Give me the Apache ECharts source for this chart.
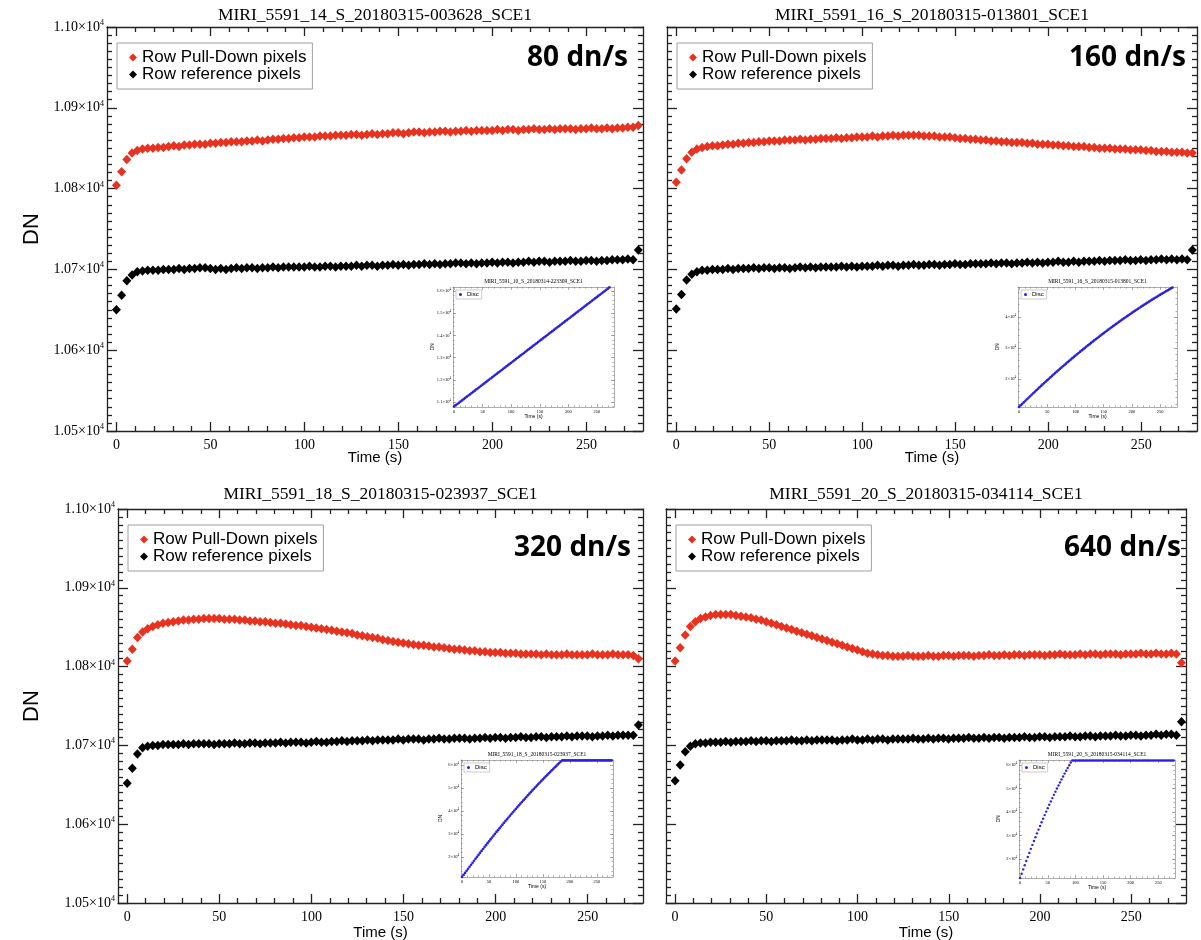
<!DOCTYPE html>
<html><head><meta charset="utf-8">
<script src="https://cdn.jsdelivr.net/npm/echarts@6/dist/echarts.min.js"></script>
<style>html,body{margin:0;padding:0;background:#fff}#c{width:1201px;height:940px}</style>
</head><body><div id="c"></div>
<script>
// ---------------- DATA ----------------
const timeS = [0,2.78,5.55,8.33,11.1,13.88,16.65,19.43,22.2,24.98,
27.75,30.53,33.3,36.08,38.85,41.63,44.4,47.18,49.95,52.73,
55.5,58.28,61.05,63.83,66.6,69.38,72.15,74.93,77.7,80.48,
83.25,86.03,88.8,91.58,94.35,97.13,99.9,102.68,105.45,108.23,
111,113.78,116.55,119.33,122.1,124.88,127.65,130.43,133.2,135.98,
138.75,141.53,144.3,147.08,149.85,152.63,155.4,158.18,160.95,163.73,
166.5,169.28,172.05,174.83,177.6,180.38,183.15,185.93,188.7,191.48,
194.25,197.03,199.8,202.58,205.35,208.13,210.9,213.68,216.45,219.23,
222,224.78,227.55,230.33,233.1,235.88,238.65,241.43,244.2,246.98,
249.75,252.53,255.3,258.08,260.85,263.63,266.4,269.18,271.95,274.73,
277.5];

const p1PullDown = [10804,10821,10836,10844,10847,10849,10850,10850,10851,10851,
10852,10853,10852,10854,10854,10855,10855,10855,10856,10856,
10857,10857,10858,10858,10858,10859,10859,10860,10859,10860,
10861,10861,10862,10862,10863,10863,10864,10864,10864,10865,
10865,10865,10866,10866,10866,10867,10867,10866,10867,10868,
10867,10868,10868,10869,10869,10868,10869,10870,10870,10869,
10870,10870,10871,10871,10870,10871,10871,10872,10871,10872,
10872,10872,10872,10873,10872,10873,10873,10872,10873,10873,
10874,10873,10873,10874,10873,10874,10874,10874,10873,10874,
10874,10875,10874,10874,10875,10874,10875,10875,10876,10876,
10878];
const p1Reference = [10650,10668,10686,10693,10697,10698,10699,10699,10699,10700,
10700,10700,10701,10700,10701,10701,10702,10702,10701,10700,
10701,10700,10701,10702,10701,10702,10702,10701,10702,10702,
10703,10702,10703,10703,10703,10703,10703,10704,10703,10703,
10704,10704,10703,10704,10704,10704,10705,10704,10705,10705,
10704,10705,10705,10706,10705,10706,10705,10706,10706,10707,
10706,10707,10706,10707,10707,10708,10708,10707,10708,10707,
10708,10708,10709,10708,10709,10709,10708,10709,10709,10710,
10709,10710,10710,10709,10710,10710,10710,10711,10710,10710,
10711,10711,10710,10711,10711,10712,10712,10712,10713,10712,
10724];

const p2PullDown = [10808,10823,10837,10845,10849,10851,10852,10853,10853,10854,
10855,10855,10856,10856,10857,10857,10858,10858,10859,10859,
10859,10860,10860,10860,10861,10860,10861,10861,10862,10862,
10862,10863,10862,10863,10863,10864,10864,10864,10865,10864,
10865,10865,10866,10865,10866,10866,10866,10866,10865,10865,
10865,10864,10864,10864,10863,10862,10862,10861,10861,10860,
10860,10859,10859,10858,10858,10857,10857,10857,10856,10856,
10855,10855,10855,10854,10854,10853,10853,10852,10852,10852,
10851,10851,10850,10850,10850,10849,10849,10849,10848,10848,
10848,10847,10847,10846,10846,10846,10845,10845,10845,10844,
10844];
const p2Reference = [10651,10669,10687,10694,10697,10699,10699,10700,10700,10700,
10701,10700,10701,10701,10701,10702,10701,10702,10702,10701,
10702,10702,10701,10702,10703,10702,10703,10702,10703,10703,
10703,10703,10704,10703,10704,10703,10704,10704,10704,10705,
10704,10705,10705,10704,10705,10705,10706,10705,10705,10706,
10706,10705,10706,10706,10707,10706,10706,10707,10707,10707,
10707,10708,10707,10708,10708,10707,10708,10708,10709,10708,
10709,10708,10709,10709,10710,10709,10709,10710,10709,10710,
10710,10710,10711,10710,10711,10711,10711,10712,10711,10711,
10712,10711,10712,10712,10713,10712,10713,10712,10713,10712,
10724];

const p3PullDown = [10807,10822,10837,10844,10848,10851,10853,10855,10856,10857,
10858,10859,10859,10860,10860,10861,10861,10861,10861,10860,
10860,10860,10859,10859,10858,10858,10857,10857,10856,10855,
10855,10854,10853,10852,10852,10851,10850,10849,10848,10847,
10846,10845,10844,10843,10842,10840,10839,10838,10837,10836,
10834,10833,10832,10831,10830,10829,10828,10827,10827,10826,
10825,10825,10824,10823,10822,10822,10821,10820,10820,10819,
10819,10818,10818,10818,10817,10817,10817,10816,10816,10816,
10816,10815,10816,10815,10815,10815,10816,10815,10815,10815,
10815,10816,10815,10815,10815,10816,10815,10815,10815,10814,
10810];
const p3Reference = [10652,10671,10689,10697,10699,10700,10700,10701,10701,10701,
10701,10702,10701,10702,10702,10702,10702,10701,10702,10702,
10702,10703,10702,10702,10703,10703,10702,10703,10703,10703,
10704,10703,10704,10704,10704,10703,10704,10705,10704,10704,
10705,10705,10706,10705,10706,10706,10706,10707,10706,10707,
10707,10707,10707,10708,10707,10708,10708,10708,10707,10708,
10708,10709,10708,10708,10709,10709,10709,10708,10709,10709,
10710,10709,10710,10710,10709,10710,10710,10711,10710,10710,
10711,10711,10710,10711,10711,10711,10712,10711,10712,10712,
10712,10711,10712,10712,10713,10712,10713,10713,10713,10713,
10726];

const p4PullDown = [10807,10824,10840,10851,10857,10861,10863,10865,10866,10866,
10866,10866,10865,10864,10863,10862,10860,10859,10857,10855,
10853,10851,10849,10847,10845,10843,10841,10839,10837,10835,
10833,10831,10829,10827,10825,10823,10821,10819,10817,10816,
10815,10814,10814,10813,10813,10813,10814,10813,10813,10813,
10814,10813,10813,10814,10814,10813,10814,10814,10814,10813,
10814,10814,10815,10814,10814,10815,10814,10815,10815,10814,
10815,10815,10815,10814,10815,10815,10816,10815,10815,10815,
10816,10815,10816,10816,10815,10816,10816,10816,10815,10816,
10816,10816,10817,10816,10816,10817,10816,10816,10817,10816,
10805];
const p4Reference = [10655,10675,10692,10699,10702,10703,10703,10704,10704,10704,
10705,10704,10705,10705,10705,10706,10705,10706,10706,10705,
10706,10706,10706,10707,10706,10706,10707,10706,10707,10707,
10707,10707,10706,10707,10707,10708,10707,10707,10708,10707,
10708,10708,10707,10708,10708,10708,10708,10709,10708,10708,
10709,10708,10709,10709,10708,10709,10709,10709,10710,10709,
10709,10710,10709,10710,10710,10709,10710,10710,10710,10711,
10710,10710,10711,10711,10710,10711,10711,10711,10712,10711,
10711,10712,10712,10711,10712,10712,10712,10713,10712,10712,
10713,10713,10712,10713,10713,10714,10713,10714,10714,10713,
10730];

const inset1Disc = [10800,10855,10909,10964,11019,11073,11128,11183,11238,11292,
11347,11402,11456,11511,11566,11620,11675,11730,11785,11839,
11894,11949,12003,12058,12113,12167,12222,12277,12332,12386,
12441,12496,12550,12605,12660,12714,12769,12824,12879,12933,
12988,13043,13097,13152,13207,13261,13316,13371,13426,13480,
13535,13590,13644,13699,13754,13808,13863,13918,13973,14027,
14082,14137,14191,14246,14301,14355,14410,14465,14520,14574,
14629,14684,14738,14793,14848,14902,14957,15012,15067,15121,
15176,15231,15285,15340,15395,15449,15504,15559,15614,15668,
15723,15778,15832,15887,15942,15996,16051,16106,16161,16215,
16270];
const inset2Disc = [11000,11500,11990,12490,12980,13470,13950,14440,14920,15400,
15880,16360,16830,17300,17770,18240,18700,19170,19630,20090,
20540,21000,21450,21900,22350,22790,23240,23680,24120,24550,
24990,25420,25850,26280,26710,27130,27550,27970,28390,28810,
29220,29630,30040,30450,30850,31250,31650,32050,32450,32840,
33230,33620,34010,34400,34780,35160,35540,35920,36290,36660,
37030,37400,37770,38130,38490,38850,39210,39560,39920,40270,
40620,40960,41310,41650,41990,42330,42660,42990,43330,43660,
43980,44310,44630,44950,45270,45580,45900,46210,46520,46830,
47130,47440,47740,48040,48330,48630,48920,49210,49500,49780,
50070];
const inset3Disc = [11300,12200,13090,13980,14870,15750,16630,17500,18370,19230,
20090,20950,21800,22650,23490,24330,25160,26000,26820,27640,
28460,29280,30080,30890,31690,32490,33280,34070,34850,35630,
36410,37180,37950,38710,39470,40220,40970,41720,42460,43200,
43930,44660,45390,46110,46820,47540,48250,48950,49650,50350,
51040,51720,52410,53090,53760,54430,55100,55760,56410,57070,
57720,58360,59000,59640,60270,60900,61520,62000,62000,62000,
62000,62000,62000,62000,62000,62000,62000,62000,62000,62000,
62000,62000,62000,62000,62000,62000,62000,62000,62000,62000,
62000,62000,62000,62000,62000,62000,62000,62000,62000,62000,
62000];
const inset4Disc = [11900,13740,15560,17350,19120,20880,22610,24320,26000,27670,
29310,30930,32530,34110,35670,37200,38710,40210,41670,43120,
44550,45960,47340,48700,50040,51360,52650,53930,55180,56410,
57620,58810,59970,61120,62000,62000,62000,62000,62000,62000,
62000,62000,62000,62000,62000,62000,62000,62000,62000,62000,
62000,62000,62000,62000,62000,62000,62000,62000,62000,62000,
62000,62000,62000,62000,62000,62000,62000,62000,62000,62000,
62000,62000,62000,62000,62000,62000,62000,62000,62000,62000,
62000,62000,62000,62000,62000,62000,62000,62000,62000,62000,
62000,62000,62000,62000,62000,62000,62000,62000,62000,62000,
62000];

const panelTitles = ['MIRI_5591_14_S_20180315-003628_SCE1','MIRI_5591_16_S_20180315-013801_SCE1',
                     'MIRI_5591_18_S_20180315-023937_SCE1','MIRI_5591_20_S_20180315-034114_SCE1'];
const rateLabels = ['80 dn/s','160 dn/s','320 dn/s','640 dn/s'];
const insetTitles = ['MIRI_5591_10_S_20180314-223309_SCE1','MIRI_5591_16_S_20180315-013801_SCE1',
                     'MIRI_5591_18_S_20180315-023937_SCE1','MIRI_5591_20_S_20180315-034114_SCE1'];
const seriesNames = ['Row Pull-Down pixels','Row reference pixels'];
const insetSeriesName = 'Disc';
const xAxisName = 'Time (s)';
const yAxisName = 'DN';

const mainXTicks = [0,50,100,150,200,250];
const mainYTicks = [10500,10600,10700,10800,10900,11000];
const mainYTickLabels = ['1.05','1.06','1.07','1.08','1.09','1.10'];
const inset1YTicks = [11000,12000,13000,14000,15000,16000];
const inset1YTickLabels = ['1.1','1.2','1.3','1.4','1.5','1.6'];
const inset2YTicks = [20000,30000,40000];
const inset2YTickLabels = ['2','3','4'];
const inset34YTicks = [20000,30000,40000,50000,60000];
const inset34YTickLabels = ['2','3','4','5','6'];

// ---------------- LAYOUT / STYLE ----------------
const SERIF = "'Liberation Serif','Times New Roman',serif";
const SANS = "'Liberation Sans',Arial,Helvetica,sans-serif";
const RED = '#e8321f', BLACK = '#000000', BLUE = '#2a20e0';

function range(a, b, step) { const r = []; for (let v = a; v <= b + 1e-9; v += step) r.push(Math.round(v * 1000) / 1000); return r; }

const panels = [
  {grid:{left:107, top:27, width:536, height:404}, inset:{left:453, top:287, width:161, height:120},
   yLabels:true, red:p1PullDown, black:p1Reference, disc:inset1Disc,
   iy:{min:10775, max:16180, ticks:inset1YTicks, labels:inset1YTickLabels, minorStep:200},
   titleY:15, nameGap:19, labelMargin:7, rateRight:628, rateY:58},
  {grid:{left:667, top:27, width:530, height:404}, inset:{left:1018, top:287, width:159, height:120},
   yLabels:false, red:p2PullDown, black:p2Reference, disc:inset2Disc,
   iy:{min:10970, max:49680, ticks:inset2YTicks, labels:inset2YTickLabels, minorStep:2000},
   titleY:15, nameGap:19, labelMargin:7, rateRight:1186, rateY:58},
  {grid:{left:118, top:509, width:525, height:394}, inset:{left:461, top:760, width:152, height:117},
   yLabels:true, red:p3PullDown, black:p3Reference, disc:inset3Disc,
   iy:{min:11300, max:62200, ticks:inset34YTicks, labels:inset34YTickLabels, minorStep:2000},
   titleY:494, nameGap:22, labelMargin:7, rateRight:631, rateY:548},
  {grid:{left:666, top:509, width:520, height:394}, inset:{left:1019, top:760, width:156, height:118},
   yLabels:false, red:p4PullDown, black:p4Reference, disc:inset4Disc,
   iy:{min:11900, max:62200, ticks:inset34YTicks, labels:inset34YTickLabels, minorStep:2000},
   titleY:494, nameGap:22, labelMargin:7, rateRight:1181, rateY:548}
];

const grids = [], xAxes = [], yAxes = [], series = [], legends = [], graphics = [];

function addGrid(g, bg) {
  grids.push(Object.assign({show: !!bg, backgroundColor: bg || 'transparent', borderWidth: 0,
    containLabel: false, outerBoundsMode: 'none'}, g));
  return grids.length - 1;
}

function addXAxes(gi, o) {
  const first = xAxes.length;
  ['bottom', 'top'].forEach(pos => {
    xAxes.push({type:'value', gridIndex:gi, position:pos, min:o.min, max:o.max, silent:true,
      splitLine:{show:false},
      axisLine:{show:true, onZero:false, lineStyle:{color:o.color, width:o.lineW}},
      axisTick:{show:true, inside:true, length:o.majorLen, customValues:o.major, lineStyle:{color:o.color, width:o.lineW}},
      axisLabel: pos === 'bottom' ? {show:true, customValues:o.major, margin:o.labelMargin, fontSize:o.labelSize,
        fontFamily:SERIF, color:'#000', hideOverlap:false, showMinLabel:true, showMaxLabel:true} : {show:false},
      name: pos === 'bottom' ? xAxisName : '', nameLocation:'middle', nameGap:o.nameGap, nameMoveOverlap:false,
      nameTextStyle:{fontFamily:SANS, fontSize:o.nameSize, color:'#000'}
    });
    xAxes.push({type:'value', gridIndex:gi, position:pos, min:o.min, max:o.max, silent:true,
      splitLine:{show:false}, axisLine:{show:false, onZero:false},
      axisTick:{show:true, inside:true, length:o.minorLen, customValues:o.minor, lineStyle:{color:o.color, width:o.lineW}},
      axisLabel:{show:false}
    });
  });
  return first;
}

function addYAxes(gi, o) {
  const first = yAxes.length;
  ['left', 'right'].forEach(pos => {
    const showLab = pos === 'left' && o.showLabels;
    yAxes.push({type:'value', gridIndex:gi, position:pos, min:o.min, max:o.max, silent:true,
      splitLine:{show:false},
      axisLine:{show:true, onZero:false, lineStyle:{color:o.color, width:o.lineW}},
      axisTick:{show:true, inside:true, length:o.majorLen, customValues:o.major, lineStyle:{color:o.color, width:o.lineW}},
      axisLabel: showLab ? {show:true, customValues:o.major, margin:o.labelMargin, hideOverlap:false,
        showMinLabel:true, showMaxLabel:true,
        formatter: v => { const i = o.major.indexOf(v); return '{m|' + o.labels[i] + '×10}{s|4}'; },
        rich:{m:{fontFamily:SERIF, fontSize:o.labelSize, lineHeight:o.labelSize + 2, color:'#000'},
              s:{fontFamily:SERIF, fontSize:o.supSize, lineHeight:o.supSize, verticalAlign:'top', color:'#000'}}} : {show:false}
    });
    yAxes.push({type:'value', gridIndex:gi, position:pos, min:o.min, max:o.max, silent:true,
      splitLine:{show:false}, axisLine:{show:false, onZero:false},
      axisTick:{show:true, inside:true, length:o.minorLen, customValues:o.minor, lineStyle:{color:o.color, width:o.lineW}},
      axisLabel:{show:false}
    });
  });
  return first;
}

panels.forEach((p, k) => {
  const g = p.grid;
  const gi = addGrid(g, null);
  const xi = addXAxes(gi, {min:-5, max:280, major:mainXTicks, minor:range(10, 270, 10).filter(v => v % 50 !== 0),
    majorLen:9, minorLen:5, color:'#222', lineW:1.3, labelMargin:p.labelMargin, labelSize:14, nameGap:p.nameGap, nameSize:15});
  const yi = addYAxes(gi, {min:10500, max:11000, major:mainYTicks, labels:mainYTickLabels,
    minor:range(10510, 10990, 10).filter(v => v % 100 !== 0), showLabels:p.yLabels,
    majorLen:10, minorLen:5, color:'#222', lineW:1.3, labelMargin:3, labelSize:14, supSize:8});
  series.push({type:'scatter', name:seriesNames[0], xAxisIndex:xi, yAxisIndex:yi, symbol:'diamond', symbolSize:[9, 9.5],
    itemStyle:{color:RED, opacity:1}, data:timeS.map((t, i) => [t, p.red[i]]), silent:true, z:3});
  series.push({type:'scatter', name:seriesNames[1], xAxisIndex:xi, yAxisIndex:yi, symbol:'diamond', symbolSize:[9, 9.5],
    itemStyle:{color:BLACK, opacity:1}, data:timeS.map((t, i) => [t, p.black[i]]), silent:true, z:3});
  legends.push({show:true, data:seriesNames, orient:'vertical', left:g.left + 10, top:g.top + 16,
    icon:'diamond', itemWidth:8, itemHeight:8, itemGap:0, padding:[6, 6, 6, 12], selectedMode:false,
    borderColor:'#a0a0a0', borderWidth:1, backgroundColor:'#fff',
    itemStyle:{opacity:1},
    textStyle:{fontFamily:SANS, fontSize:17, lineHeight:16, color:'#000', padding:[0,0,0,0]}});
  graphics.push({type:'text', x:g.left + g.width / 2, y:p.titleY,
    style:{text:panelTitles[k], font:'17.5px ' + SERIF, fill:'#000', textAlign:'center', textVerticalAlign:'middle', align:'center', verticalAlign:'middle'}});
  graphics.push({type:'text', x:p.rateRight, y:p.rateY,
    style:{text:rateLabels[k], font:"bold 28px 'Open Sans', 'Liberation Sans', sans-serif", fill:'#000',
      textAlign:'right', textVerticalAlign:'middle', align:'right', verticalAlign:'middle'}});
  if (p.yLabels) {
    graphics.push({type:'text', x:32, y:g.top + g.height / 2, rotation:Math.PI / 2,
      style:{text:yAxisName, font:'22px ' + SANS, fill:'#000', textAlign:'center', textVerticalAlign:'middle', align:'center', verticalAlign:'middle'}});
  }

  const n = p.inset;
  const igi = addGrid(n, '#ffffff');
  const ixi = addXAxes(igi, {min:-2, max:280, major:mainXTicks, minor:range(10, 270, 10).filter(v => v % 50 !== 0),
    majorLen:3, minorLen:1.5, color:'#777', lineW:0.6, labelMargin:2, labelSize:4.5, nameGap:7, nameSize:5});
  const iyi = addYAxes(igi, {min:p.iy.min, max:p.iy.max, major:p.iy.ticks, labels:p.iy.labels,
    minor:range(Math.ceil(p.iy.min / p.iy.minorStep) * p.iy.minorStep, p.iy.max, p.iy.minorStep), showLabels:true,
    majorLen:3, minorLen:1.5, color:'#777', lineW:0.6, labelMargin:2, labelSize:4.5, supSize:3});
  series.push({type:'scatter', name:insetSeriesName, xAxisIndex:ixi, yAxisIndex:iyi, symbol:'circle',
    symbolSize:k === 3 ? 2.4 : 2.7, itemStyle:{color:BLUE, opacity:1}, data:timeS.map((t, i) => [t, p.disc[i]]), silent:true, clip:true, z:5});
  legends.push({show:true, data:[insetSeriesName], orient:'vertical', left:n.left + 3, top:n.top + 3,
    icon:'circle', itemWidth:3, itemHeight:3, itemGap:0, padding:[1.5, 3, 1.5, 3], selectedMode:false,
    borderColor:'#aaa', borderWidth:0.6, backgroundColor:'#fff', z:6, itemStyle:{opacity:1},
    textStyle:{fontFamily:SANS, fontSize:6, color:'#000'}});
  graphics.push({type:'text', x:n.left + n.width / 2, y:n.top - 5, z:10,
    style:{text:insetTitles[k], font:'5.5px ' + SERIF, fill:'#000', textAlign:'center', textVerticalAlign:'middle', align:'center', verticalAlign:'middle'}});
  graphics.push({type:'text', x:n.left - 20, y:n.top + n.height / 2, rotation:Math.PI / 2, z:10,
    style:{text:yAxisName, font:'5px ' + SANS, fill:'#000', textAlign:'center', textVerticalAlign:'middle', align:'center', verticalAlign:'middle'}});
});

const chart = echarts.init(document.getElementById('c'), null, {renderer:'canvas'});
chart.setOption({
  animation:false,
  backgroundColor:'#ffffff',
  grid:grids, xAxis:xAxes, yAxis:yAxes, series:series, legend:legends,
  graphic:{elements:graphics}
});
</script>
</body></html>
